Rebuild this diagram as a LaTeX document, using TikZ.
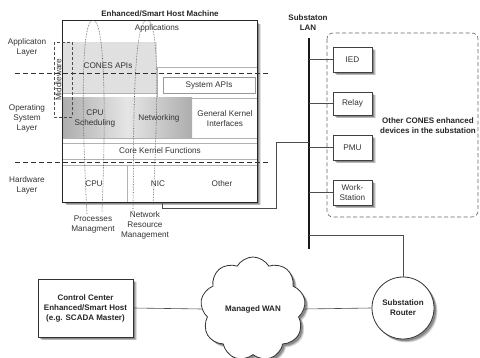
\documentclass[tikz,border=0pt]{standalone}
\usepackage{fontspec}
\setmainfont{Liberation Sans}
\usetikzlibrary{shapes.symbols,shadows,calc}
\begin{document}
\begin{tikzpicture}[x=1pt,y=-1pt,
  lbl/.style={font=\fontsize{8.2}{10}\selectfont, text=black!80, align=center, inner sep=0},
  blbl/.style={font=\fontsize{8}{10}\selectfont\bfseries, text=black!85, align=center, inner sep=0},
  shad/.style={
    general shadow={shadow xshift=3.5pt,shadow yshift=-3.5pt,opacity=0.12,fill=black},
    general shadow={shadow xshift=2.8pt,shadow yshift=-2.8pt,opacity=0.18,fill=black},
    general shadow={shadow xshift=2pt,shadow yshift=-2pt,opacity=0.25,fill=black}},
  devbox/.style={draw=black!75, line width=0.9pt, fill=white, minimum width=39, minimum height=25, shad, lbl},
  layerdash/.style={dash pattern=on 5pt off 3pt, line width=0.6pt, black!80},
  looppath/.style={densely dotted, line width=0.6pt, black!70},
  wire/.style={line width=0.6pt, black!70},
  faint/.style={black!30, line width=0.5pt},
]
\useasboundingbox (0,0) rectangle (480,358);

% ---------------- host machine ----------------
\node[fill=white, minimum width=194, minimum height=181, inner sep=0, shad] (host) at (160,111.5) {};
\fill[black!12] (63,42) rectangle (157,93);
\draw[faint] (63,93) -- (157,93);
\draw[faint, fill=white] (157,67) rectangle (257,98);
\node[draw=black!40, fill=white, minimum width=92, minimum height=16, lbl] (sysapi) at (209,85) {System APIs};
\shade[left color=black!32, right color=black!10] (63,98) rectangle (127,138);
\shade[left color=black!10, right color=black!32] (127,98) rectangle (192,138);
\draw[faint] (192,98) -- (257,98);
\draw[faint] (63,138) -- (257,138);
\draw[faint] (63,143) -- (257,143);
\draw[faint] (63,159) -- (257,159);
\draw[faint] (63,165) -- (257,165);
\draw[faint] (127,165) -- (127,202);
\draw[line width=1.2pt, black!85] (host.north west) rectangle (host.south east);

\node[blbl] (hosttitle) at (160,14) {Enhanced/Smart Host Machine};
\node[lbl] (apps) at (157,28) {Applications};
\node[lbl] (cones) at (108,66) {CONES APIs};
\node[lbl] (cpusch) at (95,118.5) {CPU\\Scheduling};
\node[lbl] (netw) at (159,118) {Networking};
\node[lbl] (gki) at (225,118.5) {General Kernel\\Interfaces};
\node[lbl] (core) at (160,151) {Core Kernel Functions};
\node[lbl] (cpu) at (94,184) {CPU};
\node[lbl] (nic) at (158,184) {NIC};
\node[lbl] (other) at (222,184) {Other};

% middleware
\draw[black!70, dash pattern=on 3pt off 2pt, line width=0.5pt] (54,42) rectangle (72,117);
\node[lbl, rotate=90] (mw) at (58.5,80) {Middleware};

% layer labels and separators
\node[lbl] (applayer) at (27,47.5) {Applicaton\\Layer};
\node[lbl] (oslayer) at (27,118) {Operating\\System\\Layer};
\node[lbl] (hwlayer) at (27,185.5) {Hardware\\Layer};
\coordinate (d1a) at (15,73); \coordinate (d1b) at (270,73);
\coordinate (d2a) at (15,162); \coordinate (d2b) at (268,162);
\draw[layerdash] (d1a) -- (d1b);
\draw[layerdash] (d2a) -- (d2b);

% management loops
\coordinate (l1a) at (87,214); \coordinate (l1t) at (93,20); \coordinate (l1b) at (102,212);
\draw[looppath] (l1a) .. controls (83,140) and (79,21) .. (l1t) .. controls (107,21) and (105,140) .. (l1b);
\coordinate (l2a) at (133,212); \coordinate (l2t) at (147,20); \coordinate (l2b) at (153,205);
\draw[looppath] (l2a) .. controls (134,140) and (132,21) .. (l2t) .. controls (162,21) and (156,140) .. (l2b);
\node[lbl] (pm) at (93,225) {Processes\\Managment};
\node[lbl] (nrm) at (145,225.5) {Network\\Resource\\Management};

% ---------------- substation LAN ----------------
\node[blbl] (lantitle) at (308,22.5) {Substaton\\LAN};
\coordinate (lanTop) at (309,38);
\coordinate (lanBot) at (309,249);
\draw[line width=2.5pt, black!90] (lanTop) -- (lanBot);

\draw[dash pattern=on 4pt off 2.5pt, rounded corners=6, black!60, line width=0.6pt] (327,33) rectangle (478,217);
\node[blbl] (othertxt) at (428,125.5) {Other CONES enhanced\\devices in the substation};

\node[devbox] (ied) at (352.5,59.5) {IED};
\node[devbox, minimum height=23] (relay) at (352.5,103.5) {Relay};
\node[devbox] (pmu) at (352.5,147.5) {PMU};
\node[devbox] (ws) at (352.5,192.5) {Work-\\Station};

\draw[wire] (lanTop |- ied.west) -- (ied.west);
\draw[wire] (lanTop |- relay.west) -- (relay.west);
\draw[wire] (lanTop |- pmu.west) -- (pmu.west);
\draw[wire] (lanTop |- ws.west) -- (ws.west);

% host to LAN
\coordinate (nicport) at (162,202);
\coordinate (hostTurn) at (276,208);
\coordinate (hostLan) at (309,142);
\draw[wire] (nicport) |- (hostTurn) |- (hostLan);

% ---------------- WAN part ----------------
\node[draw=black!80, line width=0.9pt, fill=white, minimum width=95, minimum height=58, shad, blbl] (cc) at (85.5,308) {Control Center\\Enhanced/Smart Host\\(e.g. SCADA Master)};
\node[cloud, cloud puffs=9, cloud puff arc=120, aspect=1, minimum width=105, minimum height=104, draw=black!80, line width=0.8pt, fill=white, shad, blbl] (wan) at (253,309) {Managed WAN};
\node[circle, draw=black!80, line width=0.8pt, fill=white, minimum size=62, shad, blbl] (router) at (403,308) {Substation\\Router};

\coordinate (lanR) at (309,235);
\draw[wire] (lanR) -| (router.north);
\draw[wire] (cc.east) -- (wan.west);
\draw[wire] (wan.east) -- (router.west);
\end{tikzpicture}
\end{document}
